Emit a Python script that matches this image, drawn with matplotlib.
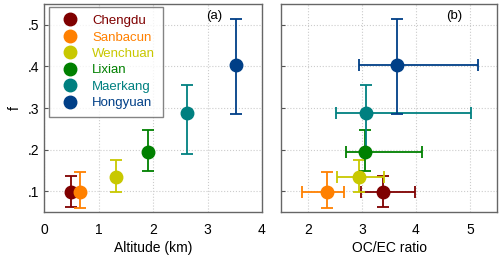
import matplotlib.pyplot as plt
from matplotlib.lines import Line2D

plt.rcParams['font.family'] = ['Liberation Sans', 'DejaVu Sans']

sites = ['Chengdu', 'Sanbacun', 'Wenchuan', 'Lixian', 'Maerkang', 'Hongyuan']
colors = ['#7f0000', '#ff8000', '#c8c800', '#008000', '#008080', '#003f87']

altitude = [0.49, 0.66, 1.32, 1.90, 2.63, 3.52]
f = [0.098, 0.098, 0.133, 0.194, 0.289, 0.403]
f_hi = [0.136, 0.146, 0.174, 0.246, 0.356, 0.515]
f_lo = [0.062, 0.060, 0.097, 0.148, 0.190, 0.286]

ocec = [3.39, 2.35, 2.95, 3.06, 3.07, 3.64]
ocec_hi = [3.98, 2.67, 3.41, 4.11, 5.02, 5.15]
ocec_lo = [2.99, 1.89, 2.53, 2.71, 2.51, 2.94]

fig = plt.figure(figsize=(5, 2.61), dpi=100)
ax1 = fig.add_axes([0.0886, 0.1877, 0.4354, 0.797])
ax2 = fig.add_axes([0.562, 0.1877, 0.432, 0.797])

for i in range(len(sites)):
    yerr = [[f[i] - f_lo[i]], [f_hi[i] - f[i]]]
    ax1.errorbar(altitude[i], f[i], yerr=yerr, fmt='o', color=colors[i],
                 ms=9, elinewidth=1.3, capsize=4, capthick=1.3, zorder=3)
    xerr = [[ocec[i] - ocec_lo[i]], [ocec_hi[i] - ocec[i]]]
    ax2.errorbar(ocec[i], f[i], xerr=xerr, yerr=yerr, fmt='o', color=colors[i],
                 ms=9, elinewidth=1.3, capsize=4, capthick=1.3, zorder=3)

yt = [0.1, 0.2, 0.3, 0.4, 0.5]
for ax in (ax1, ax2):
    ax.set_ylim(0.05, 0.55)
    ax.set_yticks(yt)
    ax.grid(True, linestyle=':', color='#cccccc', linewidth=0.8)
    ax.tick_params(axis='y', direction='in', length=3, color='#555555', labelsize=10)
    ax.tick_params(axis='x', direction='in', length=0, labelsize=10, pad=8)
    for s in ax.spines.values():
        s.set_color('#666666')
        s.set_linewidth(1)

ax1.set_xlim(0, 4)
ax1.set_xticks([0, 1, 2, 3, 4])
ax1.set_yticklabels(['.1', '.2', '.3', '.4', '.5'])
ax1.set_xlabel('Altitude (km)', fontsize=10, labelpad=3)
ax1.set_ylabel('f', fontsize=10)
ax1.text(0.78, 0.94, '(a)', transform=ax1.transAxes, fontsize=9.5, ha='center', va='center')

ax2.set_xlim(1.5, 5.5)
ax2.set_xticks([2, 3, 4, 5])
ax2.set_yticklabels([])
ax2.set_xlabel('OC/EC ratio', fontsize=10, labelpad=3)
ax2.text(0.80, 0.94, '(b)', transform=ax2.transAxes, fontsize=9.5, ha='center', va='center')

handles = [Line2D([], [], marker='o', ls='', color=c, ms=9) for c in colors]
leg = ax1.legend(handles, sites, loc='upper left', bbox_to_anchor=(0.022, 0.986),
                 fontsize=9.5, frameon=True, fancybox=False, handletextpad=0.67,
                 labelspacing=0.32, borderpad=0.6, handlelength=2.0,
                 borderaxespad=0)
leg.get_frame().set_edgecolor('#666666')
leg.get_frame().set_linewidth(1)
for t, c in zip(leg.get_texts(), colors):
    t.set_color(c)

fig.savefig('out.png', dpi=100)
